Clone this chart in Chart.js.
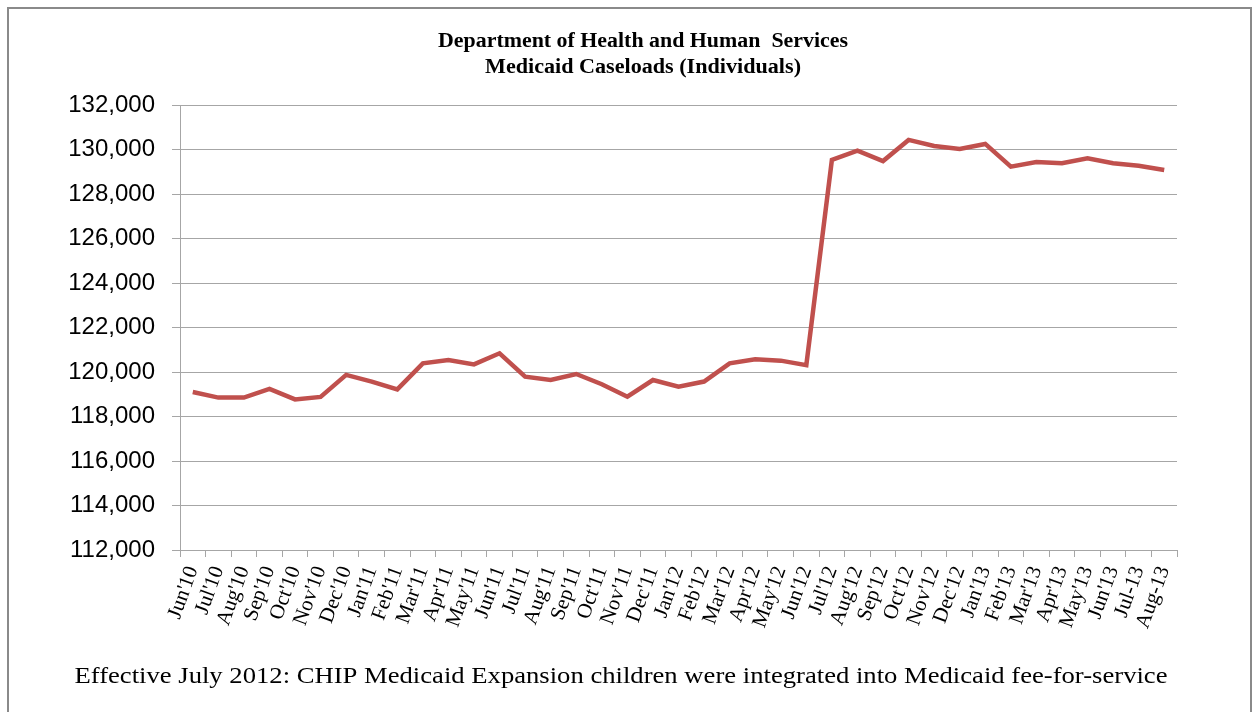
<!DOCTYPE html>
<html>
<head>
<meta charset="utf-8">
<script src="https://cdn.jsdelivr.net/npm/chart.js@4.4.1/dist/chart.umd.min.js"></script>
<style>
  html, body { margin: 0; padding: 0; background: #fff; overflow: hidden; }
  #frame { position: absolute; left: 7px; top: 7px; width: 1241px; height: 720px; border: 2px solid #8a8a8a; }
  #wrap { position: absolute; left: 0; top: 0; width: 1257px; height: 712px; }
</style>
</head>
<body>
<div id="frame"></div>
<div id="wrap"><canvas id="chart"></canvas></div>
<script>
const months = [
  "Jun'10", "Jul'10", "Aug'10", "Sep'10", "Oct'10", "Nov'10", "Dec'10",
  "Jan'11", "Feb'11", "Mar'11", "Apr'11", "May'11", "Jun'11", "Jul'11", "Aug'11", "Sep'11", "Oct'11", "Nov'11", "Dec'11",
  "Jan'12", "Feb'12", "Mar'12", "Apr'12", "May'12", "Jun'12", "Jul'12", "Aug'12", "Sep'12", "Oct'12", "Nov'12", "Dec'12",
  "Jan'13", "Feb'13", "Mar'13", "Apr'13", "May'13", "Jun'13", "Jul-13", "Aug-13"
];

const caseloads = [
  119100, 118850, 118850, 119240, 118770, 118880, 119870,
  119570, 119220, 120390, 120540, 120340, 120840, 119790, 119640, 119910, 119450, 118890, 119640,
  119340, 119570, 120390, 120570, 120510, 120310, 129530, 129950, 129480, 130430, 130160, 130020,
  130250, 129230, 129440, 129380, 129600, 129380, 129270, 129080
];

const titleLines = ["Department of Health and Human  Services", "Medicaid Caseloads (Individuals)"];
const footnote = "Effective July 2012: CHIP Medicaid Expansion children were integrated into Medicaid fee-for-service";

// texte un peu étiré en largeur, comme dans l'image d'origine
function stretchedText(ctx, text, cx, cy, font, targetWidth) {
  ctx.font = font;
  const w = ctx.measureText(text).width;
  const sx = targetWidth / w;
  ctx.save();
  ctx.translate(cx, cy);
  ctx.scale(sx, 1);
  ctx.fillText(text, 0, 0);
  ctx.restore();
}

const textPlugin = {
  id: 'textPlugin',
  afterDraw(chart) {
    const ctx = chart.ctx;
    ctx.save();
    ctx.fillStyle = '#000';
    ctx.textAlign = 'center';
    ctx.textBaseline = 'middle';
    stretchedText(ctx, titleLines[0], 643, 42, "bold 20px 'Liberation Serif'", 410);
    stretchedText(ctx, titleLines[1], 643, 68, "bold 20px 'Liberation Serif'", 316);
    stretchedText(ctx, footnote, 621, 677, "23px 'Liberation Serif'", 1093);
    ctx.restore();
  }
};

const gray = '#a6a6a6';

new Chart(document.getElementById('chart'), {
  type: 'line',
  data: {
    labels: months,
    datasets: [{
      data: caseloads,
      borderColor: '#c0504d',
      borderWidth: 4.5,
      pointRadius: 0,
      tension: 0,
      fill: false
    }]
  },
  options: {
    responsive: true,
    maintainAspectRatio: false,
    animation: false,
    layout: { padding: { top: 105, right: 80, left: 0, bottom: 0 } },
    plugins: {
      legend: { display: false },
      tooltip: { enabled: false }
    },
    scales: {
      x: {
        offset: true,
        afterFit(scale) { scale.height = 162; },
        grid: { display: true, drawOnChartArea: false, drawTicks: true, tickLength: 7, offset: true, color: gray },
        border: { display: true, color: gray, width: 1 },
        ticks: {
          autoSkip: false,
          maxRotation: 70,
          minRotation: 70,
          padding: 6,
          color: '#000',
          font: { family: "'Liberation Serif'", size: 21 }
        }
      },
      y: {
        min: 112000,
        max: 132000,
        afterFit(scale) { scale.width = 180; },
        grid: { color: gray, tickLength: 8, lineWidth: 1 },
        border: { display: true, color: gray, width: 1 },
        ticks: {
          stepSize: 2000,
          padding: 17,
          color: '#000',
          font: { family: "'Liberation Sans'", size: 24 },
          callback: v => v.toLocaleString('en-US')
        }
      }
    }
  },
  plugins: [textPlugin]
});
</script>
</body>
</html>
